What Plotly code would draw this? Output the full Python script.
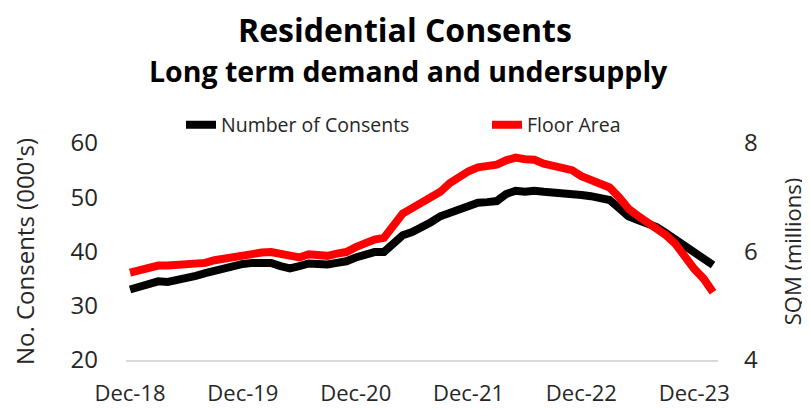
import plotly.graph_objs as go

# monthly, Dec-18 .. Feb-24
months = list(range(63))
tick_pos = [0, 12, 24, 36, 48, 60]
tick_labels = ["Dec-18", "Dec-19", "Dec-20", "Dec-21", "Dec-22", "Dec-23"]

# number of consents (000's), left axis
consents = [33.0, 33.5, 34.3, 34.5, 34.4, 34.7, 34.9, 35.5, 36.0, 36.5,
            36.9, 37.4, 37.7, 37.9, 38.0, 37.9, 37.3, 36.9, 37.3, 37.8,
            37.7, 37.6, 37.9, 38.2, 38.9, 39.5, 39.9, 39.9, 41.5, 43.0,
            43.6, 44.4, 45.4, 46.5, 47.2, 47.9, 48.6, 49.0, 49.1, 49.3,
            50.6, 51.2, 51.0, 51.2, 51.0, 50.9, 50.9, 50.8, 50.4, 50.2,
            49.8, 49.5, 48.0, 46.5, 45.8, 45.2, 44.5, 43.4, 42.2, 40.8,
            40.0, 38.4, 37.5]

# floor area (SQM millions), right axis
floor_area = [5.61, 5.65, 5.70, 5.74, 5.74, 5.75, 5.75, 5.76, 5.79, 5.84,
              5.87, 5.91, 5.95, 5.98, 5.98, 5.99, 5.96, 5.90, 5.89, 5.95,
              5.94, 5.92, 5.96, 5.99, 6.08, 6.16, 6.22, 6.25, 6.45, 6.70,
              6.80, 6.89, 6.98, 7.10, 7.26, 7.38, 7.48, 7.55, 7.59, 7.60,
              7.68, 7.73, 7.70, 7.69, 7.62, 7.58, 7.54, 7.50, 7.39, 7.33,
              7.24, 7.18, 7.00, 6.79, 6.66, 6.55, 6.42, 6.30, 6.14, 5.90,
              5.68, 5.50, 5.25]

FONT = "Open Sans"
TXT = "#262626"

fig = go.Figure()

fig.add_trace(go.Scatter(x=months, y=consents, name="Number of Consents",
                         mode="lines", line=dict(color="black", width=8),
                         yaxis="y", legend="legend"))
fig.add_trace(go.Scatter(x=months, y=floor_area, name="Floor Area",
                         mode="lines", line=dict(color="#ff0000", width=8),
                         yaxis="y2", legend="legend2"))

leg = dict(orientation="h", yanchor="middle", xanchor="left",
           font=dict(size=19.5, color=TXT), bgcolor="rgba(0,0,0,0)")

# page body adds an 8px offset, so the figure is 8px smaller each way
fig.update_layout(
    width=802, height=401,
    paper_bgcolor="white", plot_bgcolor="white",
    margin=dict(l=118, r=92, t=135, b=49, autoexpand=False),
    font=dict(family=FONT, color=TXT),
    showlegend=True,
    legend=dict(leg, x=(181 - 126) / 592, y=(360 - 125) / 217),
    legend2=dict(leg, x=(487 - 126) / 592, y=(360 - 125) / 217),
    xaxis=dict(range=[-0.43, 62.53], tickvals=tick_pos, ticktext=tick_labels,
               showgrid=False, zeroline=False, showline=True,
               linecolor="#d9d9d9", linewidth=1.5, ticks="",
               ticklabelstandoff=13,
               tickfont=dict(size=22, color=TXT)),
    yaxis=dict(range=[20, 60], dtick=10, showgrid=False, zeroline=False,
               showline=False, ticklabelstandoff=27,
               tickfont=dict(size=24, color=TXT),
               title=dict(text="No. Consents (000's)", standoff=31,
                          font=dict(size=24, color=TXT))),
    yaxis2=dict(range=[4, 8], dtick=2, overlaying="y", side="right",
                showgrid=False, zeroline=False, showline=False,
                ticklabelstandoff=25,
                tickfont=dict(size=24, color=TXT),
                title=dict(text="SQM (millions)", standoff=28,
                           font=dict(size=22, color=TXT))),
    annotations=[
        dict(text="<b>Residential Consents</b>", xref="paper", yref="paper",
             x=(405 - 126) / 592, y=(360 - 29) / 217, xanchor="center", yanchor="middle",
             showarrow=False, font=dict(size=32, color="black", family=FONT)),
        dict(text="<b>Long term demand and undersupply</b>", xref="paper", yref="paper",
             x=(408 - 126) / 592, y=(360 - 71) / 217, xanchor="center", yanchor="middle",
             showarrow=False, font=dict(size=28.5, color="black", family=FONT)),
    ],
)

fig.write_html("out.html")
